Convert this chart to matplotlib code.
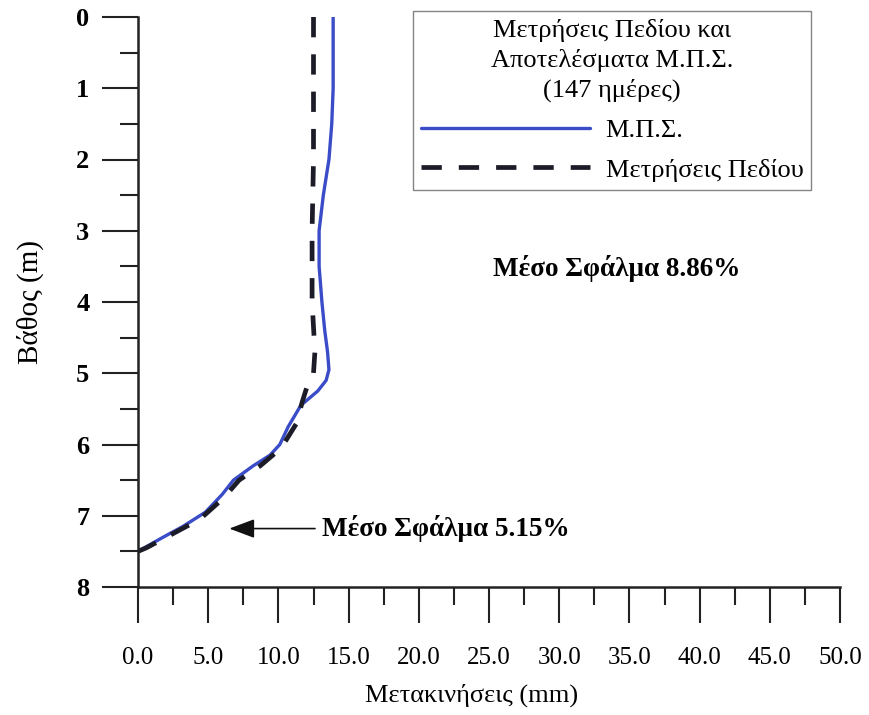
import matplotlib
matplotlib.use("Agg")
import matplotlib.pyplot as plt
from matplotlib.ticker import MultipleLocator, FormatStrFormatter

# depth (m) vs displacement (mm)
mps_depth = [0.0, 0.5, 1.0, 1.5, 2.0, 2.5, 3.0, 3.5, 4.0, 4.4, 4.7, 4.95, 5.1, 5.25,
             5.45, 5.75, 6.0, 6.15, 6.3, 6.5, 6.7, 6.95, 7.15, 7.3, 7.5]
mps_disp = [13.9, 13.9, 13.9, 13.8, 13.6, 13.2, 12.9, 12.9, 13.1, 13.3, 13.5, 13.6, 13.4, 12.8,
            11.6, 10.7, 10.1, 9.4, 8.2, 6.8, 6.0, 4.8, 3.2, 1.8, 0.0]

field_depth = [0.0, 1.0, 2.0, 3.0, 4.0, 4.7, 5.0, 5.15, 5.4, 5.7, 6.05, 6.3,
               6.5, 6.75, 7.05, 7.25, 7.45, 7.5]
field_disp = [12.5, 12.5, 12.5, 12.4, 12.4, 12.6, 12.5, 12.1, 11.7, 11.3, 10.2, 8.7,
              7.2, 6.1, 4.4, 2.5, 0.6, 0.0]

err_top = "Μέσο Σφάλμα 8.86%"
err_bottom = "Μέσο Σφάλμα 5.15%"
legend_title = "Μετρήσεις Πεδίου και\nΑποτελέσματα Μ.Π.Σ.\n(147 ημέρες)"

plt.rcParams["font.family"] = ["Liberation Serif", "DejaVu Serif"]

fig = plt.figure(figsize=(8.69, 7.15), dpi=100)
ax = fig.add_axes([138 / 869, 1 - 587 / 715, 702 / 869, 570 / 715])

ax.plot(mps_disp, mps_depth, color="#3b4cc8", lw=2.4, label="Μ.Π.Σ.",
        solid_joinstyle="round", solid_capstyle="round")
ax.plot(field_disp, field_depth, color="#1c1c28", lw=3.4, dashes=(4.3, 3.6),
        dash_joinstyle="round", label="Μετρήσεις Πεδίου")

ax.set_xlim(0, 50)
ax.set_ylim(8, 0)

for s in ("top", "right"):
    ax.spines[s].set_visible(False)
for s in ("left", "bottom"):
    ax.spines[s].set_linewidth(1.8)
    ax.spines[s].set_color("#222222")

ax.xaxis.set_major_locator(MultipleLocator(5))
ax.xaxis.set_minor_locator(MultipleLocator(2.5))
ax.yaxis.set_major_locator(MultipleLocator(1))
ax.yaxis.set_minor_locator(MultipleLocator(0.5))
ax.xaxis.set_major_formatter(FormatStrFormatter("%.1f"))

ax.tick_params(which="major", direction="out", length=26, width=1.5, color="#222222")
ax.tick_params(which="minor", direction="out", length=13, width=1.5, color="#222222")
ax.tick_params(axis="x", which="major", pad=17, labelsize=18)
ax.tick_params(axis="y", which="major", pad=9, labelsize=19)
for lab in ax.get_yticklabels():
    lab.set_fontweight("bold")

leg = ax.legend(title=legend_title, loc="upper left", bbox_to_anchor=(275 / 702, 1.01),
                fontsize=19, title_fontsize=19, frameon=True, fancybox=False,
                edgecolor="#666666", handlelength=6.4, handletextpad=0.6,
                borderpad=0.3, labelspacing=0.62, borderaxespad=0)
leg.get_frame().set_linewidth(1.0)
leg.get_title().set_multialignment("center")
leg.get_title().set_linespacing(1.37)

ax.text(25.3, 3.53, err_top, fontsize=19.5, fontweight="bold", va="center", ha="left")
ax.annotate(err_bottom, xy=(6.5, 7.18), xytext=(13.1, 7.18),
            fontsize=19.5, fontweight="bold", va="center", ha="left",
            arrowprops=dict(arrowstyle="-|>,head_length=0.8,head_width=0.3",
                            color="#111111", lw=1.2, shrinkA=3, shrinkB=0))

fig.text(30 / 869, 1 - 302 / 715, "Βάθος (m)", rotation=90, fontsize=21,
         ha="center", va="center")
fig.text(472 / 869, 1 - 695 / 715, "Μετακινήσεις (mm)", fontsize=19,
         ha="center", va="center")

fig.savefig("out.png", dpi=100)
